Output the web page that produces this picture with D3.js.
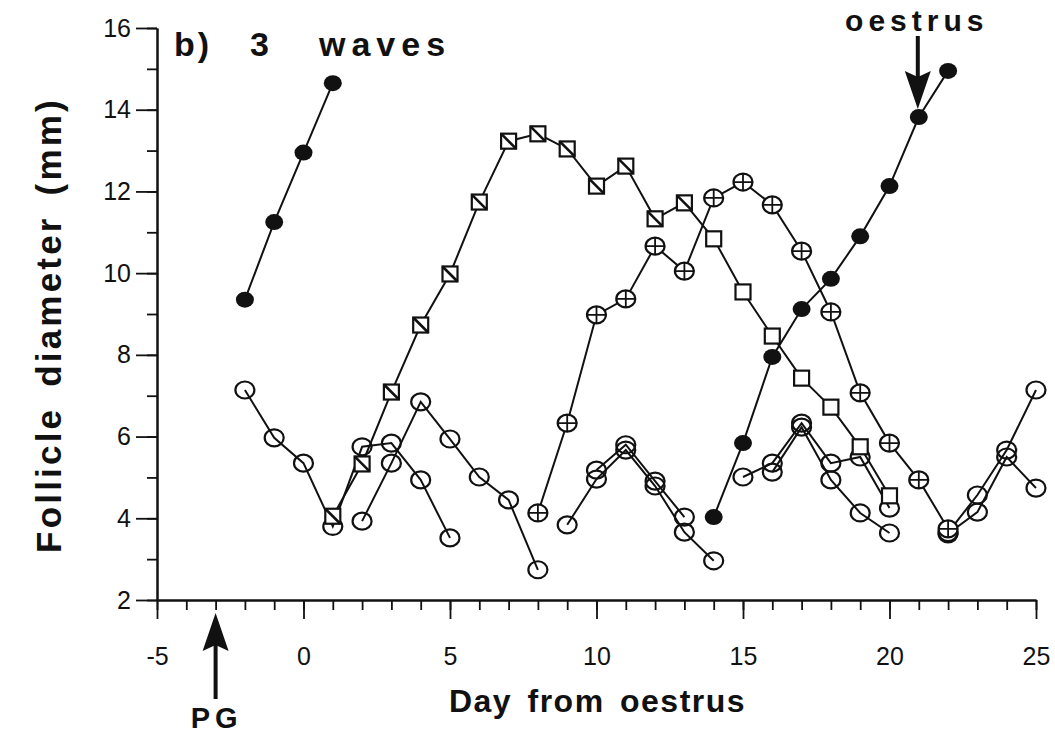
<!DOCTYPE html>
<html>
<head>
<meta charset="utf-8">
<script src="https://d3js.org/d3.v7.min.js"></script>
<style>
  html, body { margin: 0; padding: 0; background: #fff; }
  svg { display: block; }
  text { font-family: "Liberation Sans", Arial, Helvetica, sans-serif; fill: #111; }
</style>
</head>
<body>
<svg id="chart" width="1055" height="734"></svg>
<script>
// Follicle diameter (mm) by day from oestrus, one cow with three follicular waves.

// Ovulatory follicles (filled circles)
const ovulatoryPrevDays = [-2, -1, 0, 1];
const ovulatoryPrevMm   = [9.35, 11.25, 12.95, 14.65];
const ovulatoryNextDays = [14, 15, 16, 17, 18, 19, 20, 21, 22];
const ovulatoryNextMm   = [4.03, 5.84, 7.95, 9.12, 9.86, 10.9, 12.13, 13.82, 14.95];

// Dominant follicle of wave 1 (squares)
const wave1Days = [1, 2, 3, 4, 5, 6, 7, 8, 9, 10, 11, 12, 13, 14, 15, 16, 17, 18, 19, 20];
const wave1Mm   = [4.05, 5.33, 7.09, 8.73, 9.98, 11.74, 13.23, 13.41, 13.04, 12.13,
                   12.62, 11.33, 11.72, 10.84, 9.54, 8.46, 7.43, 6.72, 5.75, 4.55];
const wave1GrowingUntil = 13; // last day shown with the half-shaded square

// Dominant follicle of wave 2 (crossed circles)
const wave2Days = [8, 9, 10, 11, 12, 13, 14, 15, 16, 17, 18, 19, 20, 21, 22];
const wave2Mm   = [4.13, 6.33, 8.98, 9.37, 10.66, 10.05, 11.84, 12.23, 11.67, 10.54,
                   9.05, 7.07, 5.84, 4.94, 3.74];

// Subordinate follicles (open circles)
const sub1Days = [-2, -1, 0, 1, 2, 3, 4, 5];
const sub1Mm   = [7.14, 5.97, 5.35, 3.8, 5.75, 5.84, 4.94, 3.52];
const sub2Days = [2, 3, 4, 5, 6, 7, 8];
const sub2Mm   = [3.93, 5.35, 6.85, 5.94, 5.01, 4.45, 2.74];
const sub3Days = [9, 10, 11, 12, 13, 14];
const sub3Mm   = [3.84, 4.96, 5.67, 4.79, 3.66, 2.96];
const sub4Days = [10, 11, 12, 13];
const sub4Mm   = [5.18, 5.8, 4.91, 4.03];
const sub5Days = [15, 16, 17, 18, 19, 20];
const sub5Mm   = [5.01, 5.35, 6.33, 5.35, 5.5, 4.25];
const sub6Days = [16, 17, 18, 19, 20];
const sub6Mm   = [5.13, 6.23, 4.94, 4.13, 3.64];
const sub7Days = [22, 23, 24, 25];
const sub7Mm   = [3.65, 4.57, 5.67, 7.14];
const sub8Days = [22, 23, 24, 25];
const sub8Mm   = [3.62, 4.15, 5.5, 4.74];

// Axis ticks
const xMajorTicks = [-5, 0, 5, 10, 15, 20, 25];
const yMajorTicks = [2, 4, 6, 8, 10, 12, 14, 16];
const xDomain = [-5, 25];
const yDomain = [2, 16];

// Event markers
const pgDay = -3;
const oestrusDay = 21;

const svg = d3.select("#chart");
const ink = "#111";

const x = d3.scaleLinear().domain(xDomain).range([157, 1036]);
const y = d3.scaleLinear().domain(yDomain).range([600, 28]);

const zip = (days, mm) => days.map((d, i) => ({ day: d, mm: mm[i] }));

// ---------- axes ----------
const xMinor = d3.range(xDomain[0], xDomain[1] + 1);
const yMinor = d3.range(yDomain[0], yDomain[1] + 1);

function styleAxis(g) {
  g.selectAll("path.domain").attr("stroke", ink).attr("stroke-width", 2);
  g.selectAll(".tick line").attr("stroke", ink).attr("stroke-width", 1.8);
}
function styleLabels(g) {
  g.selectAll("text").attr("font-size", 25).attr("fill", ink)
    .style("font-family", "'Liberation Sans', Arial, sans-serif");
}

svg.append("g")
  .attr("transform", "translate(0,600)")
  .call(d3.axisBottom(x).tickValues(xMinor).tickSize(10).tickFormat("").tickSizeOuter(0))
  .call(styleAxis);

svg.append("g")
  .attr("transform", "translate(0,600)")
  .call(d3.axisBottom(x).tickValues(xMajorTicks).tickSize(19).tickPadding(28)
        .tickFormat(d => String(d)).tickSizeOuter(0))
  .call(styleAxis)
  .call(styleLabels);

svg.append("g")
  .attr("transform", "translate(157,0)")
  .call(d3.axisLeft(y).tickValues(yMinor).tickSize(10).tickFormat("").tickSizeOuter(0))
  .call(styleAxis);

svg.append("g")
  .attr("transform", "translate(157,0)")
  .call(d3.axisLeft(y).tickValues(yMajorTicks).tickSize(21).tickPadding(5)
        .tickFormat(d => String(d)).tickSizeOuter(0))
  .call(styleAxis)
  .call(styleLabels);

// ---------- axis titles and panel label ----------
svg.append("text")
  .attr("transform", `translate(61,${(y(16) + y(2)) / 2 + 11}) rotate(-90)`)
  .attr("text-anchor", "middle")
  .attr("font-size", 35).attr("font-weight", "bold")
  .attr("letter-spacing", 3.2).attr("word-spacing", 7)
  .text("Follicle diameter (mm)");

svg.append("text")
  .attr("x", (x(5) + x(15)) / 2 + 1).attr("y", 712)
  .attr("text-anchor", "middle")
  .attr("font-size", 32).attr("font-weight", "bold")
  .attr("letter-spacing", 1.5).attr("word-spacing", 5)
  .text("Day from oestrus");

const panel = svg.append("g").attr("font-size", 34).attr("font-weight", "bold");
panel.append("text").attr("x", 174).attr("y", 56).attr("letter-spacing", 3).text("b)");
panel.append("text").attr("x", 250).attr("y", 56).text("3");
panel.append("text").attr("x", 319).attr("y", 56).attr("letter-spacing", 6).text("waves");

// ---------- event arrows ----------
function arrow(xPos, yTail, yTip) {
  const dir = Math.sign(yTip - yTail);
  const headLen = 38, headHalf = 13;
  svg.append("line")
    .attr("x1", xPos).attr("x2", xPos)
    .attr("y1", yTail).attr("y2", yTip - dir * headLen * 0.8)
    .attr("stroke", ink).attr("stroke-width", 4);
  const base = yTip - dir * headLen;
  svg.append("path")
    .attr("d", `M${xPos},${yTip} L${xPos - headHalf},${base} L${xPos},${base + dir * 6} L${xPos + headHalf},${base} Z`)
    .attr("fill", ink);
}

arrow(x(pgDay), 699, 613);
svg.append("text")
  .attr("x", x(pgDay) + 1).attr("y", 728)
  .attr("text-anchor", "middle")
  .attr("font-size", 29).attr("font-weight", "bold")
  .attr("letter-spacing", 5)
  .text("PG");

arrow(x(oestrusDay) - 1, 36, y(13.82) - 8);
svg.append("text")
  .attr("x", x(oestrusDay) - 2).attr("y", 31)
  .attr("text-anchor", "middle")
  .attr("font-size", 30).attr("font-weight", "bold")
  .attr("letter-spacing", 5)
  .text("oestrus");

// ---------- series ----------
const line = d3.line().x(d => x(d.day)).y(d => y(d.mm));

const subordinate = [
  zip(sub1Days, sub1Mm), zip(sub2Days, sub2Mm), zip(sub3Days, sub3Mm), zip(sub4Days, sub4Mm),
  zip(sub5Days, sub5Mm), zip(sub6Days, sub6Mm), zip(sub7Days, sub7Mm), zip(sub8Days, sub8Mm)
];
const wave1 = zip(wave1Days, wave1Mm);
const wave2 = zip(wave2Days, wave2Mm);
const ovulatory = [zip(ovulatoryPrevDays, ovulatoryPrevMm), zip(ovulatoryNextDays, ovulatoryNextMm)];

const allLines = [...subordinate, wave1, wave2, ...ovulatory];
svg.append("g").selectAll("path")
  .data(allLines).join("path")
  .attr("d", line)
  .attr("fill", "none").attr("stroke", ink).attr("stroke-width", 2);

// open circles
svg.append("g").selectAll("ellipse")
  .data(subordinate.flat()).join("ellipse")
  .attr("cx", d => x(d.day)).attr("cy", d => y(d.mm))
  .attr("rx", 9.5).attr("ry", 8.5)
  .attr("fill", "none").attr("stroke", ink).attr("stroke-width", 2.2);

// squares
const sq = svg.append("g").selectAll("g")
  .data(wave1).join("g")
  .attr("transform", d => `translate(${x(d.day)},${y(d.mm)})`);
sq.append("rect")
  .attr("x", -7.5).attr("y", -7.5).attr("width", 15).attr("height", 15)
  .attr("fill", "#fff").attr("stroke", ink).attr("stroke-width", 2.2);
sq.filter(d => d.day <= wave1GrowingUntil).append("line")
  .attr("x1", -7.5).attr("y1", -7.5).attr("x2", 7.5).attr("y2", 7.5)
  .attr("stroke", ink).attr("stroke-width", 2.6);

// crossed circles
const cc = svg.append("g").selectAll("g")
  .data(wave2).join("g")
  .attr("transform", d => `translate(${x(d.day)},${y(d.mm)})`);
cc.append("ellipse")
  .attr("rx", 9.5).attr("ry", 8.5)
  .attr("fill", "#fff").attr("stroke", ink).attr("stroke-width", 2.2);
cc.append("path")
  .attr("d", "M-9.5,0H9.5M0,-8.5V8.5")
  .attr("stroke", ink).attr("stroke-width", 1.8);

// filled circles
svg.append("g").selectAll("ellipse")
  .data(ovulatory.flat()).join("ellipse")
  .attr("cx", d => x(d.day)).attr("cy", d => y(d.mm))
  .attr("rx", 9).attr("ry", 8)
  .attr("fill", ink);
</script>
</body>
</html>
